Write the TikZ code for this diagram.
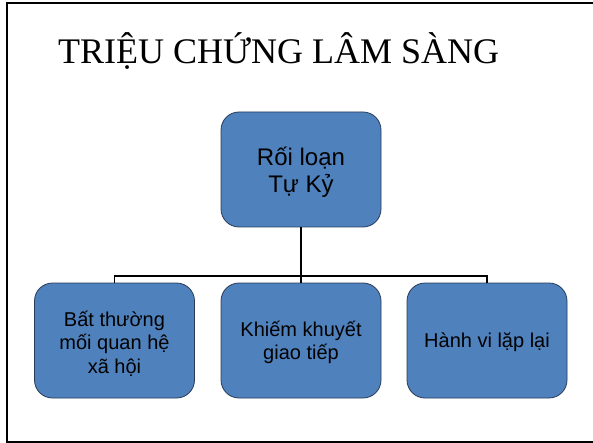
\documentclass[tikz,border=0pt]{standalone}
\usepackage{fontspec}
\setmainfont{Liberation Sans}
\newfontfamily\titlefont{Liberation Serif}
\definecolor{boxfill}{RGB}{79,129,189}
\definecolor{boxline}{RGB}{40,60,90}
\begin{document}
\begin{tikzpicture}[x=1pt,y=-1pt,
  box/.style={draw=boxline,line width=0.8pt,fill=boxfill,rounded corners=18pt,
    minimum width=160pt,minimum height=115pt,inner sep=0pt},
  boxtext/.style={align=center,inner sep=0pt},
  link/.style={draw=black,line width=1.4pt}]
\useasboundingbox (0,0) rectangle (593,443);
\fill[white] (0,0) rectangle (593,443);
\draw[line width=2pt] (6.5,3.5) rectangle (600,441.5);
\node[anchor=base west,inner sep=0pt,font=\titlefont\fontsize{36}{40}\selectfont] (title) at (58,64) {TRIỆU CHỨNG LÂM SÀNG};
\node[box] (top) at (301,169.5) {};
\node[box] (left) at (114.5,340.5) {};
\node[box] (mid) at (301,340.5) {};
\node[box] (right) at (487,340.5) {};
\node[boxtext,font=\fontsize{24}{27}\selectfont] (toptext) at ([yshift=-3pt]top.center) {Rối loạn\\Tự Kỷ};
\node[boxtext,font=\fontsize{20}{23.5}\selectfont] (lefttext) at ([yshift=-3pt]left.center) {Bất thường\\mối quan hệ\\xã hội};
\node[boxtext,font=\fontsize{20}{23.5}\selectfont] (midtext) at ([yshift=-2pt]mid.center) {Khiếm khuyết\\giao tiếp};
\node[boxtext,font=\fontsize{20}{23.5}\selectfont] (righttext) at ([yshift=-2pt]right.center) {Hành vi lặp lại};
\coordinate (bus) at (301,276);
\draw[link] (top.south) -- (mid.north);
\draw[link] (left.north) |- (bus) -| (right.north);
\end{tikzpicture}
\end{document}
